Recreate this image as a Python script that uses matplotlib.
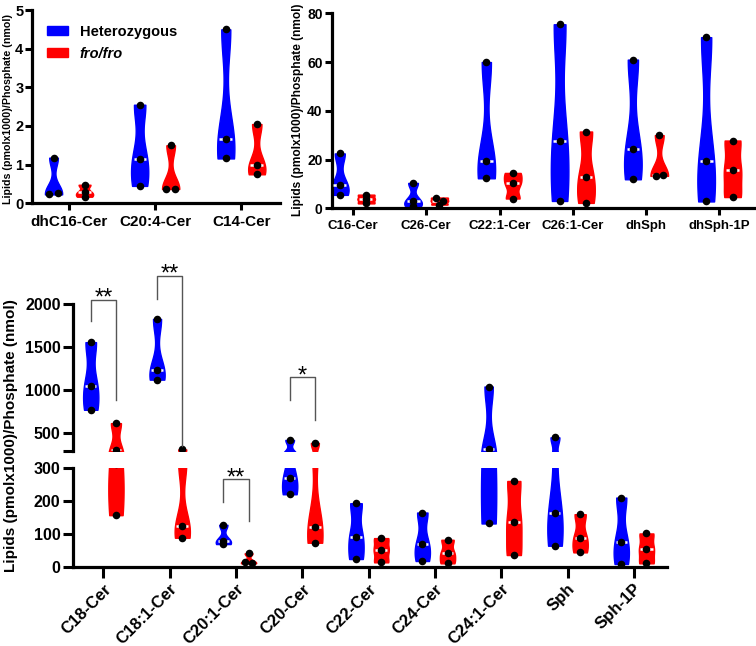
import matplotlib
matplotlib.use('Agg')
import matplotlib.pyplot as plt
from matplotlib.patches import Patch
import numpy as np

plt.rcParams['font.family'] = ['Liberation Sans', 'DejaVu Sans']
plt.rcParams['font.weight'] = 'bold'

BLUE = '#0000ff'
RED = '#ff0000'
YLAB = 'Lipids (pmolx1000)/Phosphate (nmol)'

# top left panel
cats_a = ['dhC16-Cer', 'C20:4-Cer', 'C14-Cer']
het_a = [[1.18, 0.23, 0.27], [2.55, 1.15, 0.45], [4.5, 1.67, 1.16]]
fro_a = [[0.48, 0.17, 0.28], [1.5, 0.37, 0.38], [2.05, 1.0, 0.75]]

# top right panel
cats_b = ['C16-Cer', 'C26-Cer', 'C22:1-Cer', 'C26:1-Cer', 'dhSph', 'dhSph-1P']
het_b = [[22.5, 9.5, 5.5], [10.4, 1.0, 2.9], [60.0, 19.2, 12.3],
         [75.5, 27.6, 3.0], [61.0, 24.2, 11.9], [70.2, 19.6, 2.8]]
fro_b = [[5.6, 2.0, 3.8], [4.4, 1.5, 3.0], [14.5, 10.2, 4.0],
         [31.5, 12.8, 2.2], [30.0, 13.3, 13.6], [27.8, 15.5, 4.6]]

# bottom panel (broken axis)
cats_c = ['C18-Cer', 'C18:1-Cer', 'C20:1-Cer', 'C20-Cer', 'C22-Cer',
          'C24-Cer', 'C24:1-Cer', 'Sph', 'Sph-1P']
het_c = [[1560, 1055, 775], [1830, 1235, 1125], [128, 80, 70], [425, 268, 220],
         [193, 92, 25], [165, 70, 19], [1045, 315, 132], [455, 165, 65], [210, 77, 10]]
fro_c = [[620, 310, 157], [315, 124, 89], [42, 15, 12], [390, 122, 74],
         [88, 52, 15], [83, 42, 12], [260, 137, 37], [160, 89, 45], [102, 55, 12]]

# significance: (category index, star text, top, left leg end, right leg end)
sig = [(0, '**', 2050, 1800, 890), (1, '**', 2330, 2060, 360),
       (3, '*', 1150, 890, 660), (2, '**', 265, 198, 139)]


def spread(vals, span):
    # push dots sideways when they sit on top of each other
    vals = np.asarray(vals, float)
    xs = np.zeros(len(vals))
    for i in range(len(vals)):
        for j in range(i):
            if abs(vals[i] - vals[j]) < span and xs[j] == 0:
                xs[j] = -0.05
                xs[i] = 0.05
    return xs


def violin(ax, pos, vals, color, width, span, lo=None, hi=None):
    parts = ax.violinplot([vals], positions=[pos], widths=width,
                          showextrema=False, bw_method=0.45)
    body = parts['bodies'][0]
    body.set_facecolor(color)
    body.set_edgecolor(color)
    body.set_alpha(1)
    body.set_linewidth(1)
    v = body.get_paths()[0].vertices
    right = v[v[:, 0] > pos]
    order = np.argsort(right[:, 1])
    med = np.median(vals)
    hw = np.interp(med, right[order, 1], right[order, 0]) - pos
    ax.plot([pos - hw * 0.8, pos + hw * 0.8], [med, med], color='white',
            lw=1.8, ls=(0, (2, 1.2)), zorder=3, solid_capstyle='butt')
    xs = pos + spread(vals, span)
    vals = np.asarray(vals, float)
    keep = np.ones(len(vals), bool)
    if lo is not None:
        keep &= vals >= lo - 10
    if hi is not None:
        keep &= vals <= hi + 10
    ax.scatter(xs[keep], vals[keep], s=30, color='black', zorder=4,
               linewidths=0)


def style(ax, fs):
    for s in ['top', 'right']:
        ax.spines[s].set_visible(False)
    for s in ['left', 'bottom']:
        ax.spines[s].set_linewidth(2.3)
    ax.tick_params(width=2.2, length=5, labelsize=fs)


fig = plt.figure(figsize=(7.56, 6.46), dpi=100)

# ---- top left
ax1 = fig.add_axes([0.0419, 0.6853, 0.3285, 0.2992])
off = 0.18
for i in range(len(cats_a)):
    violin(ax1, i - off, het_a[i], BLUE, 0.2, 0.1)
    violin(ax1, i + off, fro_a[i], RED, 0.2, 0.1)
ax1.set_xlim(-0.434, 2.45)
ax1.set_ylim(0, 5)
ax1.set_xticks(range(len(cats_a)))
ax1.set_xticklabels(cats_a)
ax1.set_yticks([0, 1, 2, 3, 4, 5])
style(ax1, 11)
ax1.tick_params(axis='y', pad=1, labelsize=10.5)
leg = ax1.legend(handles=[Patch(color=BLUE, label='Heterozygous'),
                          Patch(color=RED, label='fro/fro')],
                 loc='upper left', bbox_to_anchor=(0.04, 0.955), frameon=False,
                 fontsize=10.5, handlelength=1.4, handleheight=0.55,
                 handletextpad=0.8, labelspacing=0.55, borderaxespad=0)
leg.get_texts()[1].set_style('italic')
fig.text(0.011, 0.832, YLAB, rotation=90, ha='center', va='center',
         fontsize=7.7, fontweight='bold')

# ---- top right
ax2 = fig.add_axes([0.4388, 0.6776, 0.5602, 0.3018])
for i in range(len(cats_b)):
    violin(ax2, i - off, het_b[i], BLUE, 0.24, 1.5)
    violin(ax2, i + off, fro_b[i], RED, 0.24, 1.5)
ax2.set_xlim(-0.29, 5.49)
ax2.set_ylim(0, 80)
ax2.set_xticks(range(len(cats_b)))
ax2.set_xticklabels(cats_b)
ax2.set_yticks([0, 20, 40, 60, 80])
style(ax2, 9.5)
ax2.tick_params(axis='y', pad=1.5, labelsize=10)
fig.text(0.394, 0.83, YLAB, rotation=90, ha='center', va='center',
         fontsize=8.6, fontweight='bold')

# ---- bottom, broken axis
ax_lo = fig.add_axes([0.0966, 0.1218, 0.7857, 0.1542])
ax_up = fig.add_axes([0.0966, 0.3023, 0.7857, 0.2267])
offc = 0.19
for i in range(len(cats_c)):
    violin(ax_lo, i - offc, het_c[i], BLUE, 0.23, 8, hi=300)
    violin(ax_lo, i + offc, fro_c[i], RED, 0.23, 8, hi=300)
    violin(ax_up, i - offc, het_c[i], BLUE, 0.23, 8, lo=300)
    violin(ax_up, i + offc, fro_c[i], RED, 0.23, 8, lo=300)
for ax in (ax_lo, ax_up):
    ax.set_xlim(-0.457, 8.5)
    style(ax, 11.5)
    ax.tick_params(axis='y', length=7, pad=2)
ax_lo.set_ylim(0, 300)
ax_lo.set_yticks([0, 100, 200, 300])
ax_lo.set_xticks(range(len(cats_c)))
ax_lo.set_xticklabels(cats_c, rotation=45, ha='right', rotation_mode='anchor',
                      fontsize=12)
ax_lo.tick_params(axis='x', length=8, pad=2)
ax_up.set_ylim(300, 2000)
ax_up.set_yticks([300, 500, 1000, 1500, 2000])
ax_up.set_yticklabels(['', '500', '1000', '1500', '2000'])
ax_up.spines['bottom'].set_visible(False)
ax_up.set_xticks([])

for i, txt, top, l_end, r_end in sig:
    ax = ax_lo if top < 300 else ax_up
    xl, xr = i - offc, i + offc
    ax.plot([xl, xl, xr, xr], [l_end, top, top, r_end], color='#555555',
            lw=1, clip_on=False, zorder=5)
    ax.annotate(txt, xy=(i, top), xytext=(0, -7), textcoords='offset points',
                ha='center', va='bottom', fontsize=17, fontweight='normal',
                annotation_clip=False)

fig.text(0.014, 0.325, YLAB, rotation=90, ha='center', va='center',
         fontsize=11, fontweight='bold')

plt.savefig('out.png', dpi=100)
